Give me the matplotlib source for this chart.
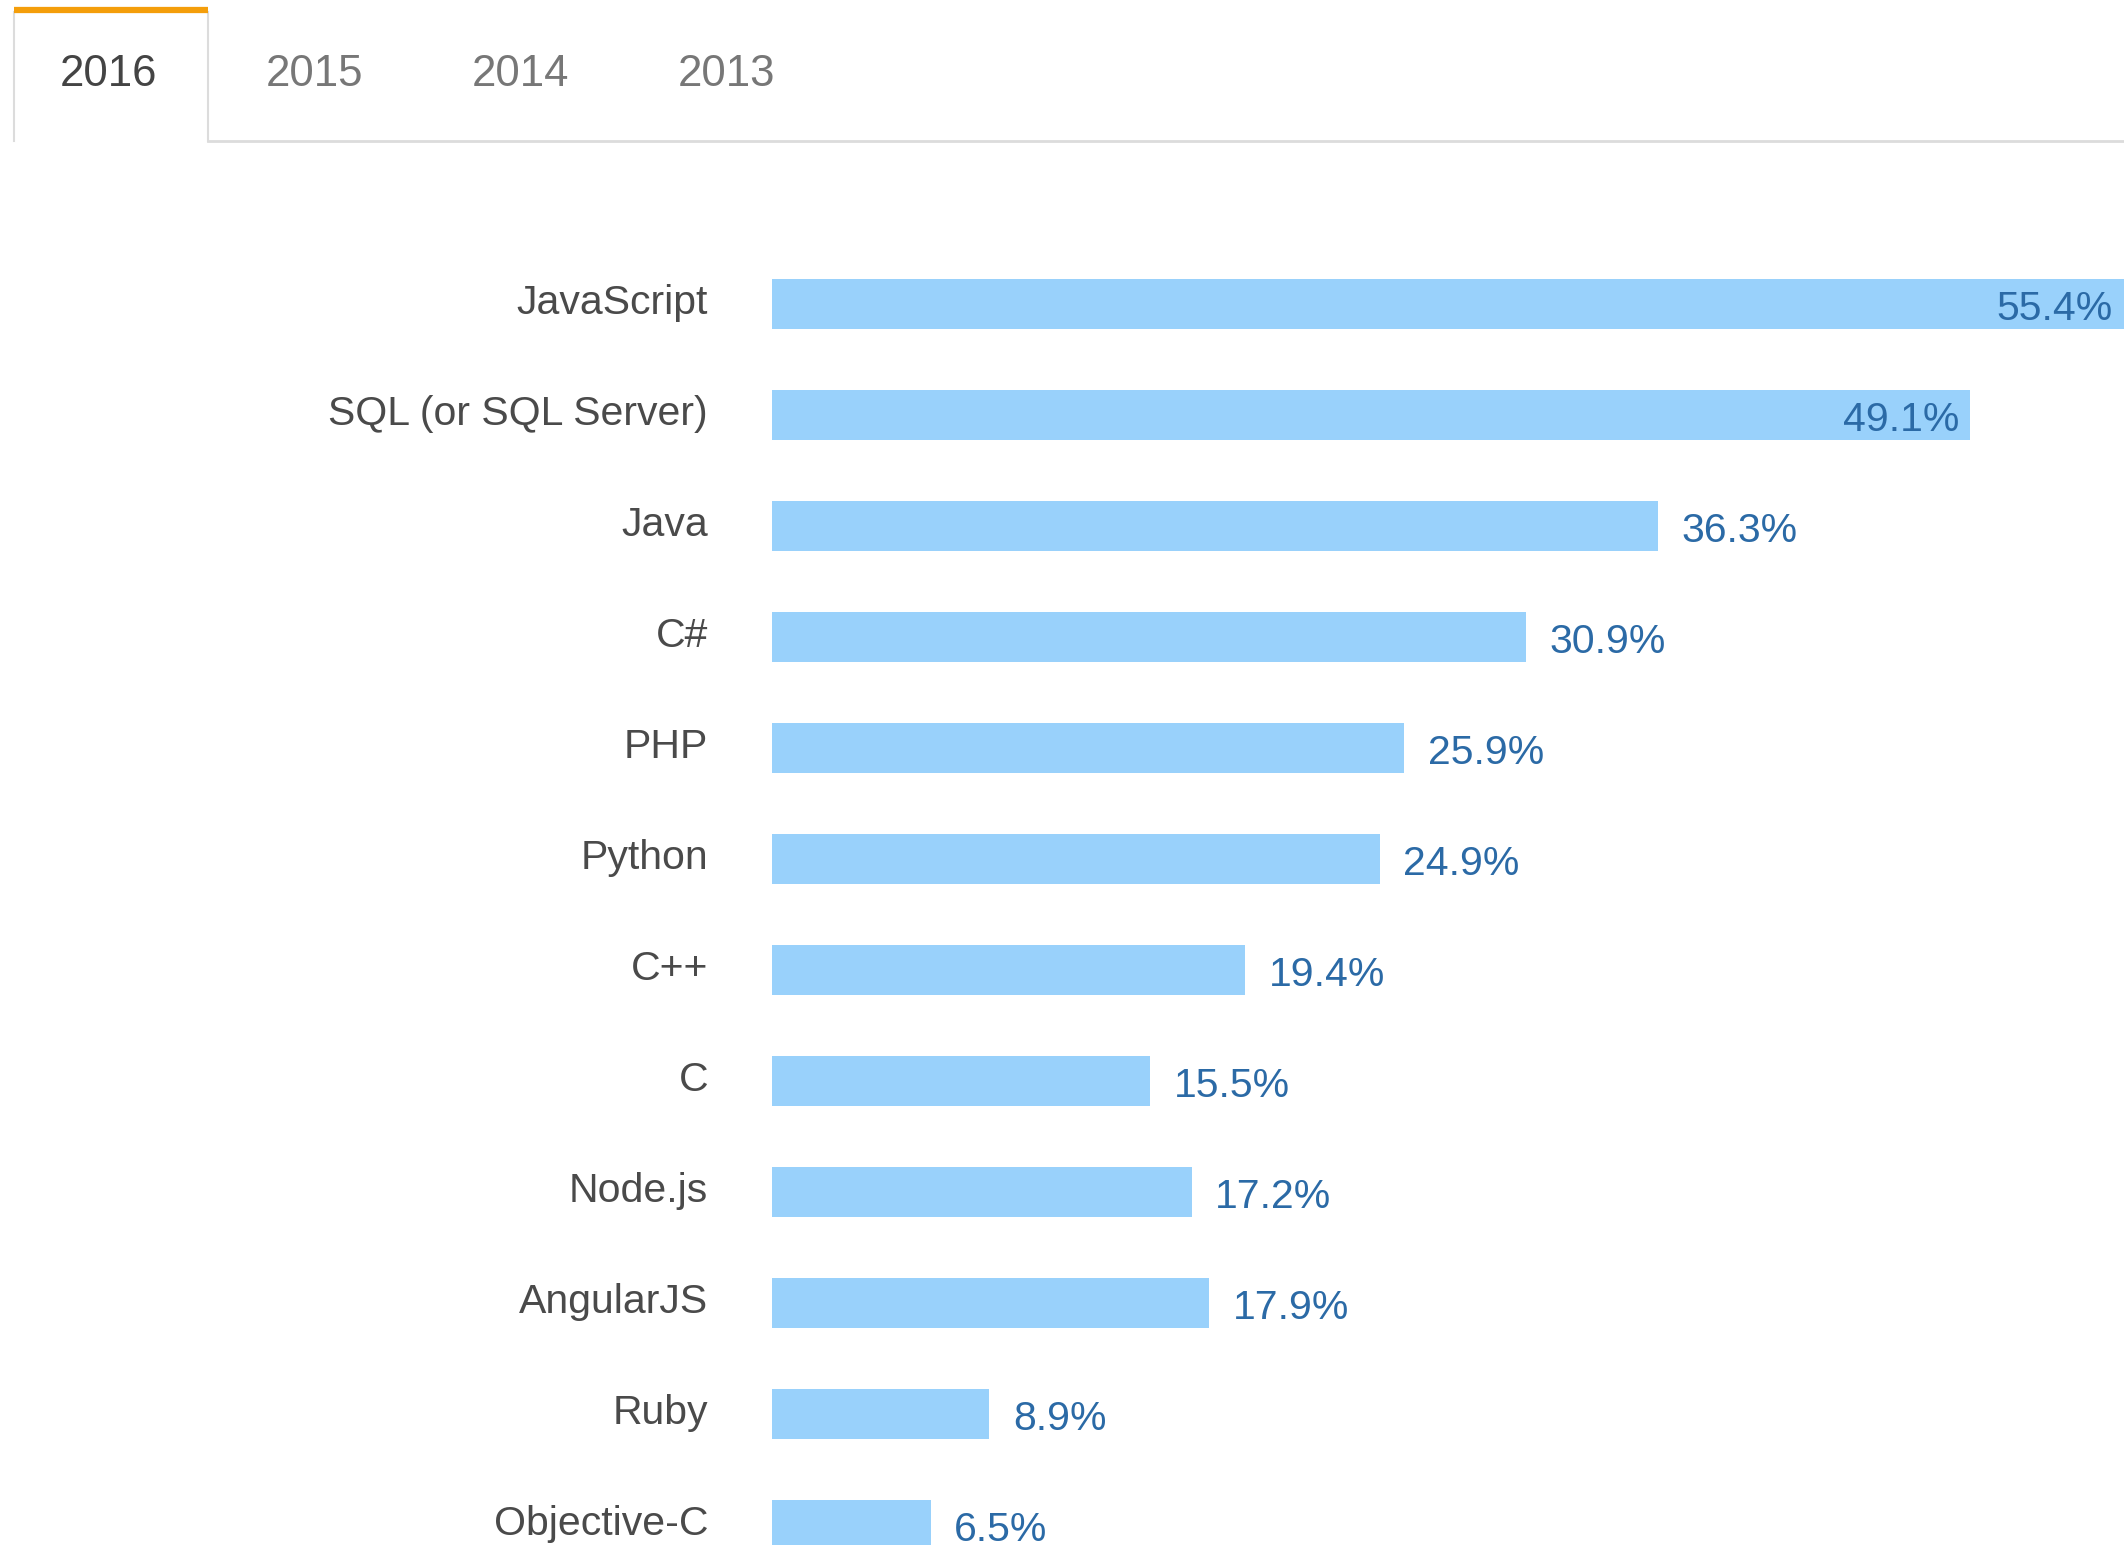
import matplotlib
matplotlib.use("Agg")
import matplotlib.pyplot as plt
import matplotlib.transforms as mtransforms
from matplotlib.lines import Line2D

plt.rcParams['font.family'] = ['Liberation Sans', 'DejaVu Sans']

# data
languages = ["JavaScript", "SQL (or SQL Server)", "Java", "C#", "PHP", "Python",
             "C++", "C", "Node.js", "AngularJS", "Ruby", "Objective-C"]
shares = [55.4, 49.1, 36.3, 30.9, 25.9, 24.9, 19.4, 15.5, 17.2, 17.9, 8.9, 6.5]
years = ["2016", "2015", "2014", "2013"]

W, H = 2124, 1545
fig = plt.figure(figsize=(W / 100, H / 100), dpi=100)
fig.patch.set_facecolor("white")

# bar area: left edge of bars at x=772px, first row at y=304px, row pitch 111px
left = 772 / W
ax = fig.add_axes([left, 0, 1 - left, 1])
row0, pitch = 304, 111
ax.set_ylim((H - row0) / pitch, -row0 / pitch)
ax.set_xlim(0, shares[0])

rows = list(range(len(languages)))
ax.barh(rows, shares, height=50 / pitch, color="#99d1fb", edgecolor="none")

for i, v in zip(rows, shares):
    if v > 45:
        ax.annotate(f"{v}%", (v, i), xytext=(-8, -3.5), textcoords="offset points",
                    ha="right", va="center", fontsize=29.5, color="#2b6aa6")
    else:
        ax.annotate(f"{v}%", (v, i), xytext=(17, -3.5), textcoords="offset points",
                    ha="left", va="center", fontsize=29.5, color="#2b6aa6")

ax.set_yticks(rows)
ax.set_yticklabels(languages, fontsize=29.5, color="#4a4a4a")
ax.tick_params(axis="y", length=0, pad=46)
shift = mtransforms.ScaledTranslation(0, 3.5 / 72, fig.dpi_scale_trans)
for lbl in ax.get_yticklabels():
    lbl.set_transform(lbl.get_transform() + shift)
ax.set_xticks([])
for s in ax.spines.values():
    s.set_visible(False)

# tab strip
def fx(px):
    return px / W

def fy(py):
    return 1 - py / H

grey = "#dcdcdc"
fig.add_artist(Line2D([fx(14), fx(14)], [fy(12), fy(141)], color=grey, lw=1.5))
fig.add_artist(Line2D([fx(208), fx(208)], [fy(12), fy(141)], color=grey, lw=1.5))
fig.add_artist(Line2D([fx(208), 1], [fy(141), fy(141)], color=grey, lw=2))
fig.add_artist(Line2D([fx(14), fx(208)], [fy(9.5), fy(9.5)], color="#f49e0b", lw=4.5,
                      solid_capstyle="butt"))

for k, yr in enumerate(years):
    fig.text(fx(108 + 206 * k), fy(75), yr, ha="center", va="center",
             fontsize=31.5, color="#444444" if k == 0 else "#777777")

fig.savefig("out.png", dpi=100, facecolor="white")
